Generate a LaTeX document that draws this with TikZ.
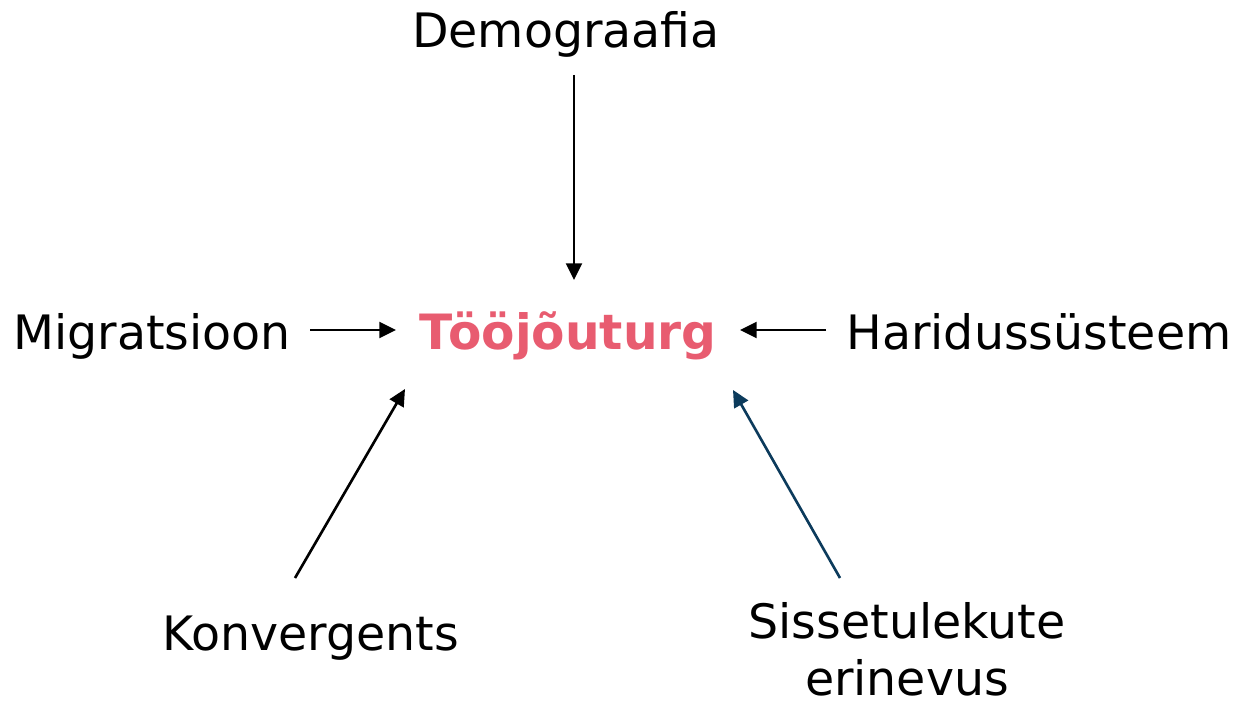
\documentclass[tikz,border=0pt]{standalone}
\usepackage{fontspec}
\setmainfont{DejaVu Sans}
\usetikzlibrary{arrows.meta}
\definecolor{market}{RGB}{232,92,112}
\definecolor{navy}{RGB}{12,59,92}

\begin{document}
\begin{tikzpicture}[
    x=0.02cm, y=-0.02cm,
    label/.style={
        anchor=base,
        inner sep=0pt,
        align=center,
        font=\fontsize{27}{32.4}\selectfont
    },
    arr/.style={
        -{Triangle[length=9.5pt,width=9pt]},
        line width=1.5pt
    }
]
\useasboundingbox (0,0) rectangle (1236,705);

\node[label, font=\fontsize{27.7}{32.4}\selectfont\bfseries, text=market] (market) at (568,350) {Tööjõuturg};
\node[label] (demo) at (566,48) {Demograafia};
\node[label] (migr) at (152,350) {Migratsioon};
\node[label] (edu) at (1039,350) {Haridussüsteem};
\node[label] (conv) at (311,650) {Konvergents};
\node[label] (income) at (907,695) {Sissetulekute\\erinevus};

\draw[arr] ([shift={(8,27)}]demo.base) -- ([shift={(6,-70)}]market.base);
\draw[arr] ([shift={(158,-20)}]migr.base) -- ([shift={(-172,-20)}]market.base);
\draw[arr] ([shift={(-213,-20)}]edu.base) -- ([shift={(172,-20)}]market.base);
\draw[arr] ([shift={(-16,-72)}]conv.base) -- ([shift={(-163,39)}]market.base);
\draw[arr, draw=navy, fill=navy] ([shift={(-67,-117)}]income.base) -- ([shift={(165,40)}]market.base);

\end{tikzpicture}
\end{document}
